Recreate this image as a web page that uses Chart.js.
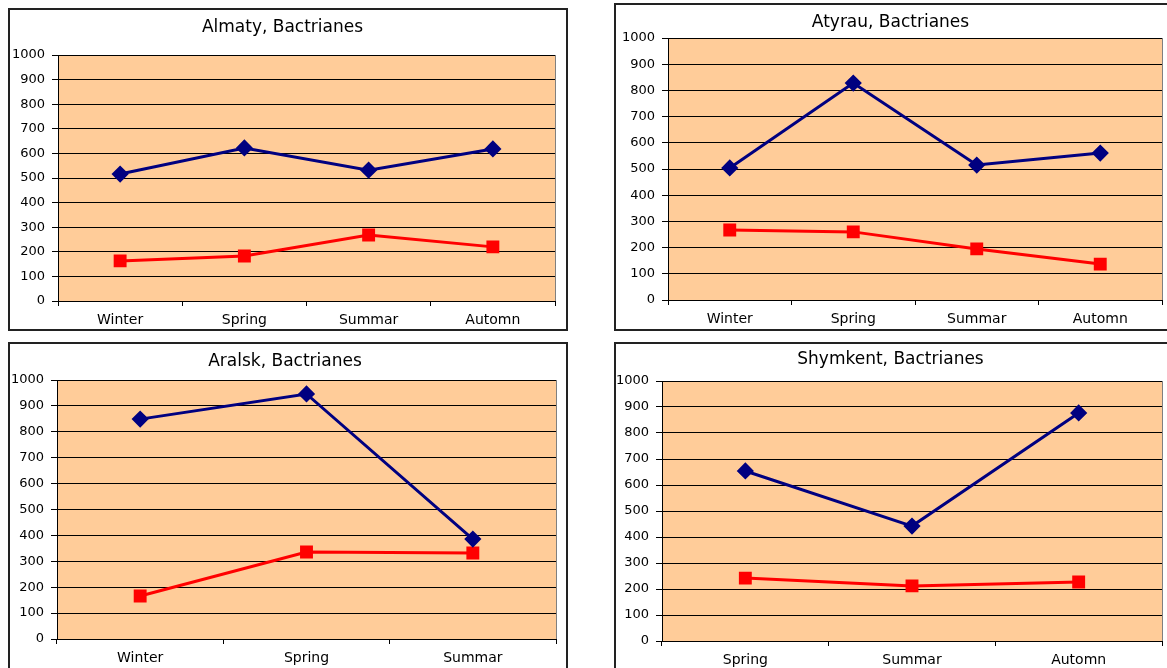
<!DOCTYPE html>
<html>
<head>
<meta charset="utf-8">
<script src="https://cdn.jsdelivr.net/npm/chart.js@4.4.0/dist/chart.umd.min.js"></script>
<style>
  body { margin: 0; background: #fff; overflow: hidden; width: 1167px; height: 668px; position: relative; }
  .box { position: absolute; border: 2px solid #222; background: #fff; }
  .box canvas { display: block; }
</style>
</head>
<body>
<div class="box" style="left:8px;top:8px;width:556px;height:319px"><canvas id="almaty" width="556" height="319"></canvas></div>
<div class="box" style="left:614px;top:3px;width:556px;height:324px"><canvas id="atyrau" width="556" height="324"></canvas></div>
<div class="box" style="left:8px;top:342px;width:556px;height:330px"><canvas id="aralsk" width="556" height="330"></canvas></div>
<div class="box" style="left:614px;top:342px;width:556px;height:330px"><canvas id="shymkent" width="556" height="330"></canvas></div>

<script>
// saisons
const seasonsAll = ["Winter", "Spring", "Summar", "Automn"];
const seasonsAralsk = ["Winter", "Spring", "Summar"];
const seasonsShymkent = ["Spring", "Summar", "Automn"];

// valeurs par ville (série bleue / série rouge)
const almatyBlue = [516, 622, 532, 618];
const almatyRed = [163, 183, 268, 220];
const atyrauBlue = [504, 828, 515, 561];
const atyrauRed = [267, 260, 195, 137];
const aralskBlue = [849, 946, 386];
const aralskRed = [166, 336, 332];
const shymkentBlue = [654, 442, 877];
const shymkentRed = [242, 212, 227];

const yMin = 0;
const yMax = 1000;
const yStep = 100;

const FONT = "'DejaVu Sans', sans-serif";

// fond orange + bord droit gris de la zone de tracé
const plotArea = {
    id: "plotArea",
    beforeDraw(chart) {
        const a = chart.chartArea;
        const ctx = chart.ctx;
        ctx.save();
        ctx.fillStyle = "#FFCC99";
        ctx.fillRect(a.left, a.top, a.right - a.left, a.bottom - a.top);
        ctx.restore();
    },
    afterDraw(chart) {
        const a = chart.chartArea;
        const ctx = chart.ctx;
        ctx.save();
        ctx.strokeStyle = "#808080";
        ctx.lineWidth = 1;
        ctx.beginPath();
        ctx.moveTo(a.right + 0.5, a.top);
        ctx.lineTo(a.right + 0.5, a.bottom);
        ctx.stroke();
        ctx.restore();
    }
};

function makeChart(id, title, labels, blue, red, lay) {
    new Chart(document.getElementById(id), {
        type: "line",
        data: {
            labels: labels,
            datasets: [
                {
                    label: "Series 1",
                    data: blue,
                    borderColor: "#000080",
                    backgroundColor: "#000080",
                    borderWidth: 3,
                    pointStyle: "rectRot",
                    pointRadius: 6.5,
                    pointHoverRadius: 6.5,
                    tension: 0
                },
                {
                    label: "Series 2",
                    data: red,
                    borderColor: "#FF0000",
                    backgroundColor: "#FF0000",
                    borderWidth: 3,
                    pointStyle: "rect",
                    pointRadius: 7,
                    pointHoverRadius: 7,
                    tension: 0
                }
            ]
        },
        options: {
            responsive: false,
            animation: false,
            layout: { padding: { left: 0, top: 0, right: lay.padRight, bottom: 0 } },
            plugins: {
                legend: { display: false },
                tooltip: { enabled: false },
                title: {
                    display: true,
                    text: title,
                    color: "#000",
                    font: { family: FONT, size: 17, weight: "normal", lineHeight: 1.2 },
                    padding: { top: lay.titleMid - 10.2, bottom: lay.top - lay.titleMid - 10.2 }
                }
            },
            scales: {
                x: {
                    offset: true,
                    grid: {
                        offset: true,
                        drawOnChartArea: false,
                        drawTicks: true,
                        tickLength: 5,
                        color: "#000"
                    },
                    border: { color: "#000", width: 1 },
                    ticks: { color: "#000", padding: 6, font: { family: FONT, size: 14 } },
                    afterFit(scale) { scale.height = lay.xHeight; }
                },
                y: {
                    min: yMin,
                    max: yMax,
                    grid: { color: "#000", lineWidth: 1, tickLength: 6 },
                    border: { color: "#000", width: 1 },
                    ticks: {
                        stepSize: yStep,
                        color: "#000",
                        padding: 7,
                        font: { family: FONT, size: 13 },
                        callback: v => String(v) // pas de séparateur de milliers
                    },
                    afterFit(scale) { scale.width = lay.yWidth; }
                }
            }
        },
        plugins: [plotArea]
    });
}

makeChart("almaty", "Almaty, Bactrianes", seasonsAll, almatyBlue, almatyRed,
    { yWidth: 48, top: 45, padRight: 11, xHeight: 28, titleMid: 18 });
makeChart("atyrau", "Atyrau, Bactrianes", seasonsAll, atyrauBlue, atyrauRed,
    { yWidth: 52, top: 33, padRight: 7, xHeight: 29, titleMid: 18 });
makeChart("aralsk", "Aralsk, Bactrianes", seasonsAralsk, aralskBlue, aralskRed,
    { yWidth: 47, top: 36, padRight: 6, xHeight: 35, titleMid: 18 });
makeChart("shymkent", "Shymkent, Bactrianes", seasonsShymkent, shymkentBlue, shymkentRed,
    { yWidth: 46, top: 37, padRight: 7, xHeight: 33, titleMid: 16 });
</script>
</body>
</html>
